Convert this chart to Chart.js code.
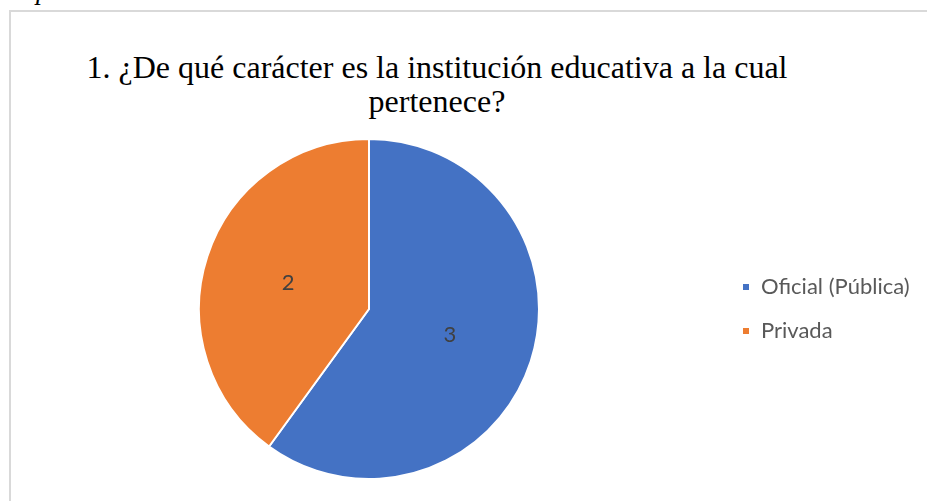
<!DOCTYPE html>
<html>
<head>
<meta charset="utf-8">
<script src="https://cdn.jsdelivr.net/npm/chart.js@4"></script>
<style>
  html, body { margin: 0; padding: 0; background: #fff; overflow: hidden; }
  body { width: 927px; height: 501px; position: relative; }
  #cut { position: absolute; left: 36px; top: -25px; font: italic 27px "Liberation Serif"; color: #000; }
  #frame { position: absolute; left: 9px; top: 10px; width: 960px; height: 520px; border: 2px solid #d9d9d9; box-sizing: border-box; }
  #title { position: absolute; left: 0; top: 50px; width: 874px; text-align: center;
           font: 32px/34px "Liberation Serif"; color: #000; }
  #wrap { position: absolute; left: 0; top: 0; width: 1000px; height: 501px; }
</style>
</head>
<body>
<div id="cut">p</div>
<div id="frame"></div>
<div id="title">1. ¿De qué carácter es la institución educativa a la cual<br>pertenece?</div>
<div id="wrap"><canvas id="myChart"></canvas></div>
<script>
// categories and values
var labels = ["Oficial (Pública)", "Privada"];
var values = [3, 2];
var colors = ['#4472C4', '#ED7D31'];

var fontSize = 22;
var legendPad = 22;

// value labels in the middle of each slice
var sliceLabels = {
    id: 'sliceLabels',
    afterDatasetsDraw: function (chart) {
        var ctx = chart.ctx;
        var meta = chart.getDatasetMeta(0);
        ctx.save();
        ctx.font = fontSize + 'px Lato';
        ctx.fillStyle = '#404040';
        ctx.textAlign = 'center';
        ctx.textBaseline = 'middle';
        meta.data.forEach(function (arc, i) {
            var p = arc.tooltipPosition();
            ctx.fillText(String(values[i]), p.x, p.y);
        });
        ctx.restore();
    }
};

var ctx = document.getElementById('myChart').getContext('2d');

// legend width so the legend starts at x=720 and pie stays centred at 369
ctx.font = fontSize + 'px Lato';
var textW = Math.max.apply(null, labels.map(function (l) { return ctx.measureText(l).width; }));
var legendW = legendPad + 8 + fontSize / 2 + textW + 10;
var padRight = 1000 - 720 - legendW;

var chart = new Chart(ctx, {
    type: 'pie',
    data: {
        labels: labels,
        datasets: [{
            data: values,
            backgroundColor: colors,
            borderColor: '#ffffff',
            borderWidth: 2
        }]
    },
    options: {
        responsive: true,
        maintainAspectRatio: false,
        animation: false,
        layout: { padding: { left: 18, right: padRight, top: 138, bottom: 21 } },
        plugins: {
            tooltip: { enabled: false },
            legend: {
                position: 'right',
                labels: {
                    boxWidth: 8,
                    boxHeight: 8,
                    padding: legendPad,
                    color: '#595959',
                    font: { family: 'Lato', size: fontSize }
                }
            }
        }
    },
    plugins: [sliceLabels]
});
</script>
</body>
</html>
